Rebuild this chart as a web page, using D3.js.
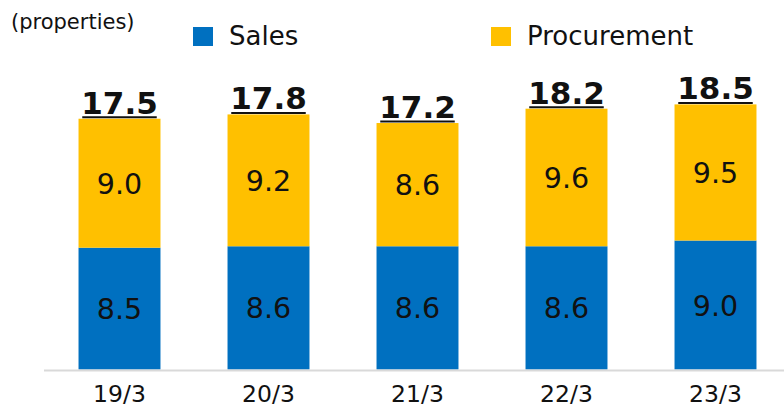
<!DOCTYPE html>
<html>
<head>
<meta charset="utf-8">
<script src="https://cdn.jsdelivr.net/npm/d3@7"></script>
<style>
  body { margin: 0; background: #fff; overflow: hidden; }
  svg { display: block; }
  text { font-family: "DejaVu Sans", Verdana, sans-serif; fill: #111; }
</style>
</head>
<body>
<div id="chart"></div>
<script>
// chart data
let periods = ["19/3", "20/3", "21/3", "22/3", "23/3"];
let sales = [8.5, 8.6, 8.6, 8.6, 9.0];
let procurement = [9.0, 9.2, 8.6, 9.6, 9.5];
let totals = [17.5, 17.8, 17.2, 18.2, 18.5];
let seriesNames = ["Sales", "Procurement"];

let width = 784, height = 408;
let colors = ["#0070C0", "#FFC000"];

let svg = d3.select("#chart").append("svg")
    .attr("width", width)
    .attr("height", height);

// x band per period
let x = d3.scaleBand()
    .domain(periods)
    .range([45, 790])
    .paddingInner(0.45)
    .paddingOuter(0.225);

// y linear
let y = d3.scaleLinear()
    .domain([0, 20])
    .range([369.5, 369.5 - 20 * 14.33]);

let rows = periods.map((p, i) => ({ period: p, Sales: sales[i], Procurement: procurement[i], total: totals[i] }));
let stacked = d3.stack().keys(seriesNames)(rows);

// bars
let layers = svg.append("g").selectAll("g")
    .data(stacked)
    .enter().append("g")
    .attr("fill", (d, i) => colors[i]);

layers.selectAll("rect")
    .data(d => d)
    .enter().append("rect")
    .attr("x", d => x(d.data.period))
    .attr("y", d => y(d[1]))
    .attr("width", x.bandwidth())
    .attr("height", d => y(d[0]) - y(d[1]));

// segment value labels
layers.selectAll("text")
    .data(d => d)
    .enter().append("text")
    .attr("x", d => x(d.data.period) + x.bandwidth() / 2)
    .attr("y", d => (y(d[0]) + y(d[1])) / 2)
    .attr("dy", "0.37em")
    .attr("text-anchor", "middle")
    .style("font-size", "28.5px")
    .text(d => (d[1] - d[0]).toFixed(1));

// axis baseline
svg.append("line")
    .attr("x1", 44).attr("x2", 784)
    .attr("y1", y(0) + 1).attr("y2", y(0) + 1)
    .attr("stroke", "#d9d9d9")
    .attr("stroke-width", 2);

// category labels
svg.append("g").selectAll("text")
    .data(periods)
    .enter().append("text")
    .attr("x", d => x(d) + x.bandwidth() / 2)
    .attr("y", 402)
    .attr("text-anchor", "middle")
    .style("font-size", "23.5px")
    .text(d => d);

// totals, bold + underlined
let totalLabels = svg.append("g").selectAll("g")
    .data(rows)
    .enter().append("g");

totalLabels.append("text")
    .attr("x", d => x(d.period) + x.bandwidth() / 2)
    .attr("y", d => y(d.total) - 5)
    .attr("text-anchor", "middle")
    .style("font-size", "31px")
    .style("font-weight", "bold")
    .text(d => d.total.toFixed(1));

totalLabels.each(function (d) {
    let bb = d3.select(this).select("text").node().getBBox();
    d3.select(this).append("line")
        .attr("x1", bb.x + 1).attr("x2", bb.x + bb.width - 1)
        .attr("y1", y(d.total) - 1.5).attr("y2", y(d.total) - 1.5)
        .attr("stroke", "#111")
        .attr("stroke-width", 2);
});

// unit label
svg.append("text")
    .attr("x", 11)
    .attr("y", 29)
    .style("font-size", "21px")
    .text("(properties)");

// legend
let legendX = [193, 491];
let legend = svg.append("g").selectAll("g")
    .data(seriesNames)
    .enter().append("g")
    .attr("transform", (d, i) => `translate(${legendX[i]}, 27)`);

legend.append("rect")
    .attr("width", 20)
    .attr("height", 19)
    .attr("fill", (d, i) => colors[i]);

legend.append("text")
    .attr("x", 36)
    .attr("y", 18)
    .style("font-size", "26px")
    .text(d => d);
</script>
</body>
</html>
